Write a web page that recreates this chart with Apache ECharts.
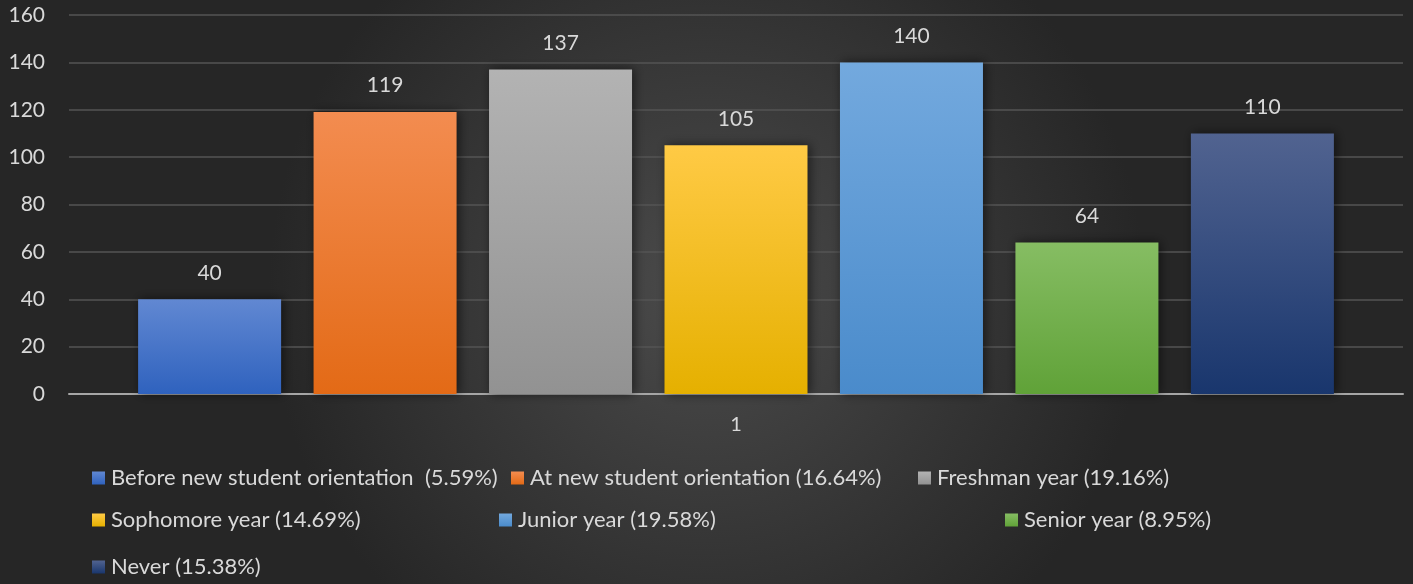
<!DOCTYPE html>
<html>
<head>
<meta charset="utf-8">
<script src="https://cdn.jsdelivr.net/npm/echarts@6/dist/echarts.min.js"></script>
<style>
  html, body { margin: 0; padding: 0; }
  #main { width: 1413px; height: 584px; }
</style>
</head>
<body>
<div id="main"></div>
<script>
const categories = ['1'];
const seriesNames = [
  'Before new student orientation  (5.59%)',
  'At new student orientation (16.64%)',
  'Freshman year (19.16%)',
  'Sophomore year (14.69%)',
  'Junior year (19.58%)',
  'Senior year (8.95%)',
  'Never (15.38%)'
];
const seriesValues = [40, 119, 137, 105, 140, 64, 110];
const yTicks = [0, 20, 40, 60, 80, 100, 120, 140, 160];

// top / bottom shades for each bar gradient
const barColors = [
  ['#6188d2', '#2f62be'],
  ['#f38c50', '#e36a16'],
  ['#b3b3b3', '#929292'],
  ['#ffca45', '#e5b000'],
  ['#73a9de', '#4a8bcb'],
  ['#86bd63', '#60a238'],
  ['#516390', '#19366d']
];

// legend placement, Excel style rows
const legendPos = [
  [92, 467], [511, 467], [918, 467],
  [92, 509], [499, 509], [1005, 509],
  [92, 556]
];

const font = 'Lato, "Open Sans", sans-serif';
const chart = echarts.init(document.getElementById('main'));

const grad = (c) => new echarts.graphic.LinearGradient(0, 0, 0, 1, [
  { offset: 0, color: c[0] },
  { offset: 1, color: c[1] }
]);

const option = {
  animation: false,
  backgroundColor: {
    type: 'radial', x: 0.5, y: 0.5, r: 0.75,
    colorStops: [
      { offset: 0, color: '#4b4b4b' },
      { offset: 1, color: '#262626' }
    ]
  },
  textStyle: { fontFamily: font },
  grid: { left: 69, right: 10, top: 15, bottom: 190 },
  legend: seriesNames.map((n, i) => ({
    data: [n],
    left: legendPos[i][0],
    top: legendPos[i][1],
    padding: 0,
    itemWidth: 13,
    itemHeight: 13,
    icon: 'rect',
    textStyle: { color: '#d9d9d9', fontSize: 22, fontFamily: font, padding: [0, 0, 0, 1] }
  })),
  xAxis: {
    type: 'category',
    data: categories,
    axisLine: { lineStyle: { color: '#a6a6a6', width: 2 } },
    axisTick: { show: false },
    axisLabel: { color: '#d9d9d9', fontSize: 20, margin: 21 }
  },
  yAxis: {
    type: 'value',
    min: yTicks[0],
    max: yTicks[yTicks.length - 1],
    interval: 20,
    axisLine: { show: false },
    axisTick: { show: false },
    axisLabel: { color: '#d9d9d9', fontSize: 21, margin: 24 },
    splitLine: { lineStyle: { color: '#555555', width: 1.5 } }
  },
  series: seriesNames.map((n, i) => ({
    name: n,
    type: 'bar',
    data: [seriesValues[i]],
    barWidth: 143,
    barGap: '22.7%',
    itemStyle: {
      color: grad(barColors[i]),
      shadowColor: 'rgba(0,0,0,0.55)',
      shadowBlur: 10,
      shadowOffsetX: 2
    },
    label: {
      show: true,
      position: 'top',
      distance: 16,
      color: '#d9d9d9',
      fontSize: 21,
      fontFamily: font
    }
  }))
};

chart.setOption(option);
</script>
</body>
</html>
